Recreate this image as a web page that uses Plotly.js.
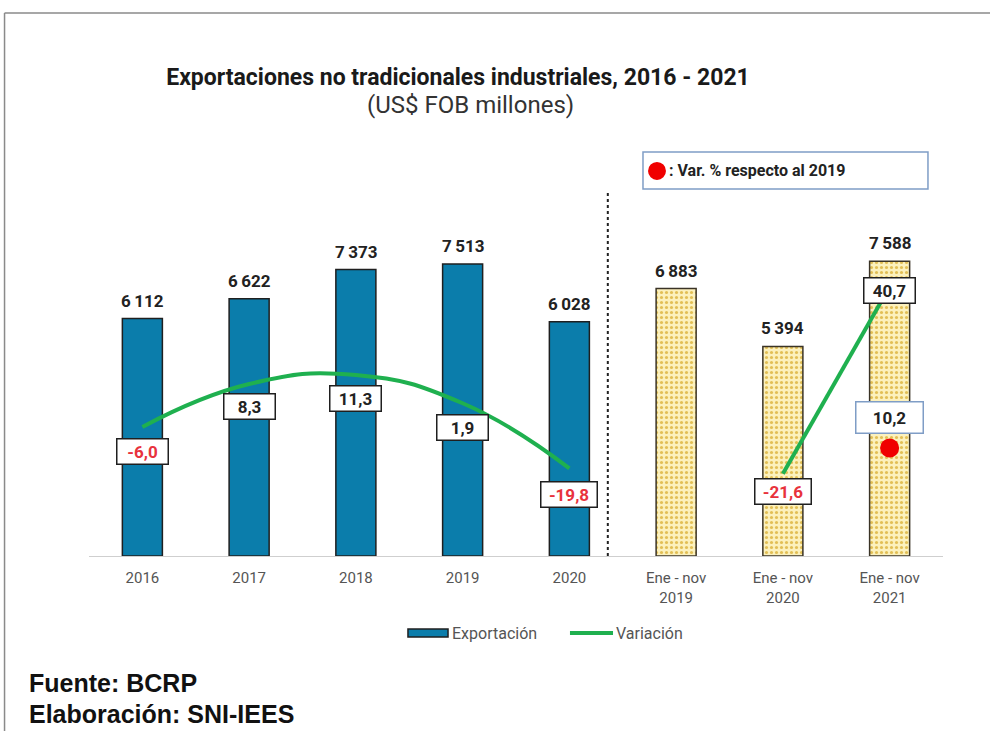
<!DOCTYPE html>
<html>
<head>
<meta charset="utf-8">
<script src="https://cdn.plot.ly/plotly-3.0.1.min.js"></script>
<style>
  html, body { margin: 0; padding: 0; background: #ffffff; }
  #chart { width: 990px; height: 731px; }
</style>
</head>
<body>
<div id="chart"></div>
<script>
// ---------- data ----------
const categories = ["2016", "2017", "2018", "2019", "2020",
                    "Ene - nov<br>2019", "Ene - nov<br>2020", "Ene - nov<br>2021"];
const exportacion = [6112, 6622, 7373, 7513, 6028, 6883, 5394, 7588];
const variacionAnual = [-6.0, 8.3, 11.3, 1.9, -19.8];      // 2016-2020
const variacionEneNov = [-21.6, 40.7];                       // Ene-nov 2020, 2021
const varRespecto2019 = [10.2];                              // Ene-nov 2021 vs 2019
const legendNames = ["Exportación", "Variación"];

// ---------- styles / positions ----------
const BLUE = "#0b7dab", GREEN = "#1fb04f", RED = "#e8323c", DARK = "#1f1f1f";
const annualCats = categories.slice(0, 5);
const eneNovCats = categories.slice(5);
const lineCats2 = categories.slice(6);
const dotCats = categories.slice(7);
const annualShift = [-24.5, -22.5, -23, -24, -26.5];
const eneNovShift = [-18, -3.5];

const fmtThousands = v => String(v).replace(/\B(?=(\d{3})+(?!\d))/g, "\u2009");
const fmtPct = v => v.toFixed(1).replace(".", ",");

const traces = [
  {
    type: "bar", name: legendNames[0], x: annualCats, y: exportacion.slice(0, 5),
    marker: { color: BLUE, line: { color: DARK, width: 1.5 } },
    width: 0.375, hoverinfo: "skip", showlegend: false
  },
  {
    type: "bar", name: "Exportación Ene-nov", x: eneNovCats, y: exportacion.slice(5),
    showlegend: false,
    marker: {
      color: "#fbefb8",
      line: { color: "#3a3326", width: 1.5 },
      pattern: { shape: ".", bgcolor: "#fcf1bd", fgcolor: "#e2bf55", size: 5, solidity: 0.3 }
    },
    width: 0.375, hoverinfo: "skip"
  },
  {
    type: "scatter", mode: "lines", name: legendNames[1], x: annualCats, y: variacionAnual,
    yaxis: "y2", line: { color: GREEN, width: 4, shape: "spline", smoothing: 1.3 },
    hoverinfo: "skip", showlegend: false
  },
  {
    type: "scatter", mode: "lines", name: "Variación Ene-nov", x: lineCats2, y: variacionEneNov,
    yaxis: "y2", showlegend: false, line: { color: GREEN, width: 4 }, hoverinfo: "skip"
  },
  {
    type: "scatter", mode: "markers", name: "Var. % respecto al 2019", x: dotCats, y: varRespecto2019,
    yaxis: "y3", showlegend: false, marker: { color: "#f00000", size: 19 }, hoverinfo: "skip"
  }
];

const annotations = [];
// bar value labels (x given as category index)
categories.forEach((c, i) => {
  annotations.push({
    x: i, y: exportacion[i], xref: "x", yref: "y", text: "<b>" + fmtThousands(exportacion[i]) + "</b>",
    showarrow: false, yanchor: "bottom", yshift: 6,
    font: { family: "Roboto", size: 17, color: "#222222" }
  });
});
// variation labels
const pctBox = (x, y, yref, v, shift) => ({
  x: x, y: y, xref: "x", yref: yref, text: "<b>" + fmtPct(v) + "</b>",
  showarrow: false, yshift: shift,
  width: fmtPct(v).length > 4 ? 51 : 46, height: 20,
  bgcolor: "#ffffff", bordercolor: DARK, borderwidth: 1.5, borderpad: 2,
  font: { family: "Roboto", size: 17, color: v < 0 ? RED : "#222222" }
});
annualCats.forEach((c, i) => annotations.push(pctBox(i, variacionAnual[i], "y2", variacionAnual[i], annualShift[i])));
lineCats2.forEach((c, i) => annotations.push(pctBox(6 + i, variacionEneNov[i], "y2", variacionEneNov[i], eneNovShift[i])));
// 10,2 box
annotations.push({
  x: 7, y: varRespecto2019[0], xref: "x", yref: "y3",
  text: "<b>" + fmtPct(varRespecto2019[0]) + "</b>", showarrow: false, yshift: 30.5,
  width: 62, height: 26, bgcolor: "#ffffff", bordercolor: "#7f9dc6", borderwidth: 1.5, borderpad: 2,
  font: { family: "Roboto", size: 17, color: "#222222" }
});
// legend note
annotations.push({
  x: 0.6768, y: 0.9495, xref: "paper", yref: "paper", xanchor: "left", yanchor: "middle",
  text: "<b>: Var. % respecto al 2019</b>", showarrow: false,
  font: { family: "Roboto", size: 16, color: "#222222" }
});
// subtitle
annotations.push({
  x: 0.4473, y: 1.1108, xref: "paper", yref: "paper", xanchor: "center", yanchor: "middle",
  text: "(US$ FOB millones)", showarrow: false,
  font: { family: "Roboto", size: 24, color: "#333333" }
});
// custom legend texts
annotations.push({
  x: 0.4227, y: -0.1897, xref: "paper", yref: "paper", xanchor: "left", yanchor: "middle",
  text: legendNames[0], showarrow: false,
  font: { family: "Roboto", size: 16, color: "#555555" }
});
annotations.push({
  x: 0.6148, y: -0.1897, xref: "paper", yref: "paper", xanchor: "left", yanchor: "middle",
  text: legendNames[1], showarrow: false,
  font: { family: "Roboto", size: 16, color: "#555555" }
});
// footer
annotations.push({
  x: -0.0726, y: -0.3128, xref: "paper", yref: "paper", xanchor: "left", yanchor: "middle",
  text: "<b>Fuente: BCRP</b>", showarrow: false,
  font: { family: "Liberation Sans", size: 25, color: "#111111" }
});
annotations.push({
  x: -0.0726, y: -0.389, xref: "paper", yref: "paper", xanchor: "left", yanchor: "middle",
  text: "<b>Elaboración: SNI-IEES</b>", showarrow: false,
  font: { family: "Liberation Sans", size: 25, color: "#111111" }
});

const shapes = [
  // outer frame (top + left)
  { type: "line", xref: "paper", yref: "paper", x0: -0.0989, x1: 1.06, y0: 1.3374, y1: 1.3374,
    line: { color: "#8a8a8a", width: 1.5 } },
  { type: "line", xref: "paper", yref: "paper", x0: -0.0989, x1: -0.0989, y0: 1.3374, y1: -0.45,
    line: { color: "#8a8a8a", width: 1.5 } },
  // dotted separator
  { type: "line", xref: "x", yref: "paper", x0: 4.36, x1: 4.36, y0: 0, y1: 0.9,
    line: { color: "#222222", width: 2, dash: "dot" } },
  // note box
  { type: "rect", xref: "paper", yref: "paper", x0: 0.6487, x1: 0.9824, y0: 0.9039, y1: 0.9951,
    line: { color: "#7f9dc6", width: 1.5 }, fillcolor: "#ffffff" },
  // red dot in note
  { type: "circle", xref: "paper", yref: "paper", x0: 0.6651 - 0.0105, x1: 0.6651 + 0.0105,
    y0: 0.9483 - 0.0222, y1: 0.9483 + 0.0222, line: { width: 0 }, fillcolor: "#f00000" },
  // custom legend symbols
  { type: "rect", xref: "paper", yref: "paper", x0: 0.3735, x1: 0.4204, y0: -0.1995, y1: -0.1798,
    line: { color: DARK, width: 1.5 }, fillcolor: BLUE },
  { type: "line", xref: "paper", yref: "paper", x0: 0.5632, x1: 0.6136, y0: -0.1897, y1: -0.1897,
    line: { color: GREEN, width: 4 } }
];

const layout = {
  width: 990, height: 731,
  margin: { l: 89, r: 47, t: 150, b: 175 },
  paper_bgcolor: "#ffffff", plot_bgcolor: "#ffffff",
  font: { family: "Roboto", color: "#333333" },
  title: {
    text: "<b>Exportaciones no tradicionales industriales, 2016 - 2021</b>",
    xref: "container", yref: "container", x: 458 / 990, y: 1 - 77 / 731,
    xanchor: "center", yanchor: "middle",
    font: { family: "Roboto", size: 23, color: "#1a1a1a" }
  },
  barmode: "overlay",
  xaxis: {
    type: "category", range: [-0.5, 7.5], showline: true, linecolor: "#cfcfcf", linewidth: 1,
    ticks: "", showgrid: false, zeroline: false, ticklabelstandoff: 8,
    tickfont: { family: "Roboto", size: 15, color: "#555555" }
  },
  yaxis: { range: [0, 10450], visible: false, showgrid: false, zeroline: false },
  yaxis2: { range: [-49, 86.3], overlaying: "y", visible: false, showgrid: false, zeroline: false },
  yaxis3: { range: [0, 38.35], overlaying: "y", visible: false, showgrid: false, zeroline: false },
  showlegend: false,
  annotations: annotations,
  shapes: shapes
};

Plotly.newPlot("chart", traces, layout, { displayModeBar: false, staticPlot: true });
</script>
</body>
</html>
